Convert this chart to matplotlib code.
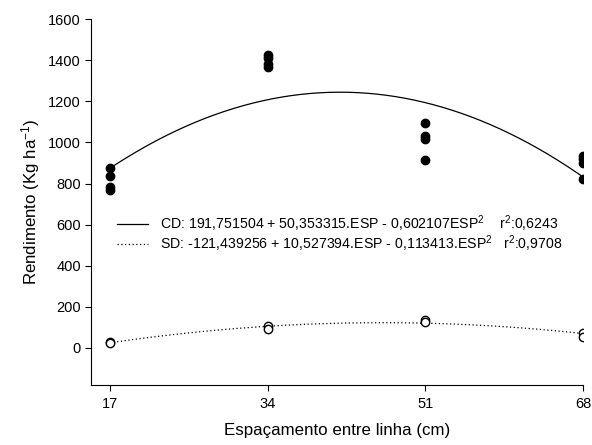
import numpy as np
import matplotlib.pyplot as plt

plt.rcParams['font.family'] = ['Liberation Sans', 'DejaVu Sans']
plt.rcParams['mathtext.fontset'] = 'custom'
plt.rcParams['mathtext.rm'] = 'Liberation Sans'
plt.rcParams['mathtext.it'] = 'Liberation Sans'

# espaçamentos (cm)
espacamento = [17, 34, 51, 68]
# repeticoes com adubo (CD) e sem adubo (SD)
cd_x = [17, 17, 17, 17, 34, 34, 34, 34, 51, 51, 51, 51, 68, 68, 68, 68]
cd_y = [875, 835, 785, 770, 1425, 1410, 1380, 1365, 1095, 1030, 1015, 915, 935, 920, 900, 820]
sd_x = [17, 17, 34, 34, 51, 51, 68, 68]
sd_y = [30, 25, 105, 90, 135, 125, 75, 55]
# coeficientes das regressoes (legenda)
coef_cd = [191.751504, 50.353315, -0.602107]
coef_sd = [-121.439256, 10.527394, -0.113413]

fig = plt.figure(figsize=(5.92, 4.45), dpi=100)
ax = fig.add_axes([0.154, 0.135, 0.831, 0.822])

xx = np.linspace(17, 68, 200)
y_cd = coef_cd[0] + coef_cd[1] * xx + coef_cd[2] * xx ** 2
y_sd = coef_sd[0] + coef_sd[1] * xx + coef_sd[2] * xx ** 2

l1, = ax.plot(xx, y_cd, color='black', lw=0.9)
l2, = ax.plot(xx, y_sd, color='black', lw=0.9, linestyle=(0, (1, 2)))
ax.plot(cd_x, cd_y, 'o', color='black', ms=6, ls='none')
ax.plot(sd_x, sd_y, 'o', mfc='white', mec='black', mew=1, ms=6, ls='none')

ax.legend([l1, l2],
          ['CD: 191,751504 + 50,353315.ESP - 0,602107ESP$^2$    r$^2$:0,6243',
           'SD: -121,439256 + 10,527394.ESP - 0,113413.ESP$^2$   r$^2$:0,9708'],
          loc='center left', bbox_to_anchor=(0.027, 0.413), frameon=False,
          fontsize=10.2, handlelength=2.2, handletextpad=0.8, labelspacing=0.0)

ax.set_xlim(15, 68)
ax.set_ylim(-180, 1600)
ax.set_xticks(espacamento)
ax.set_yticks(range(0, 1601, 200))
ax.spines['top'].set_visible(False)
ax.spines['right'].set_visible(False)
ax.tick_params(labelsize=10.5, length=4, width=0.8)
ax.tick_params(axis='x', pad=5)
ax.set_xlabel('Espaçamento entre linha (cm)', fontsize=12.2, labelpad=8)
ax.set_ylabel('Rendimento (Kg ha$^{-1}$)', fontsize=12.2, labelpad=4)

fig.savefig('out.png', dpi=100)
